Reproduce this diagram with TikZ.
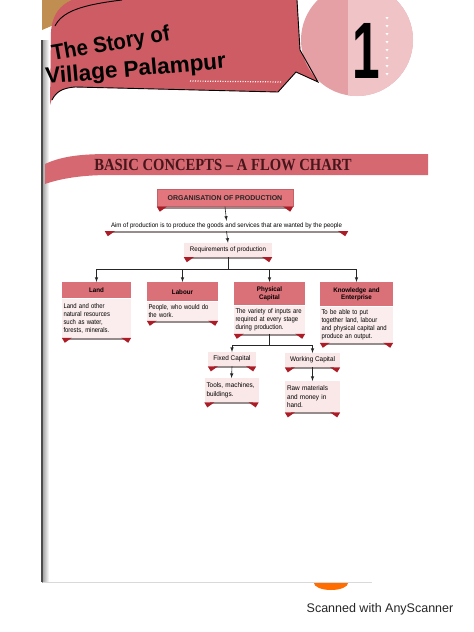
\documentclass[tikz,border=0pt]{standalone}
\usepackage{fontspec}
\setmainfont{Liberation Sans}
\newfontfamily\ttlserif{Liberation Serif}
\newfontfamily\boxfont[FakeStretch=0.94]{Liberation Sans}
\newfontfamily\bodyfont[FakeStretch=0.86]{Liberation Sans}
\usetikzlibrary{positioning,arrows,calc}

\definecolor{ribbon}{RGB}{205,92,100}
\definecolor{circpink}{RGB}{228,160,165}
\definecolor{circlight}{RGB}{240,196,198}
\definecolor{banner}{RGB}{214,104,114}
\definecolor{orgpink}{RGB}{226,118,124}
\definecolor{hdpink}{RGB}{218,112,120}
\definecolor{bodypink}{RGB}{251,237,237}
\definecolor{subpink}{RGB}{250,232,232}
\definecolor{flapred}{RGB}{172,28,38}
\definecolor{shadowgrey}{RGB}{150,140,140}
\definecolor{ttlred}{RGB}{70,22,26}
\definecolor{wood}{RGB}{192,142,80}

\begin{document}
\begin{tikzpicture}[x=1pt,y=-1pt,
     % define styles
     hdbox/.style={
         fill=hdpink,
         font=\boxfont\bfseries\fontsize{6.6}{7.4}\selectfont,
         align=center,
         text width=#1,
         inner xsep=1.5pt, inner ysep=2pt
     },
     bodybox/.style={
         fill=bodypink,
         font=\bodyfont\fontsize{6.9}{8}\selectfont,
         align=left,
         text width=#1,
         inner xsep=1.5pt, inner ysep=2pt
     },
     subbox/.style={
         fill=subpink,
         font=\boxfont\fontsize{6.8}{8.2}\selectfont,
         align=left,
         inner xsep=2pt, inner ysep=2pt
     },
     title/.style={
         anchor=base west,
         inner sep=0pt,
         font=\bfseries\fontsize{22}{22}\selectfont
     },
     link/.style={line width=0.6pt, black!85},
     >=latex
]
\useasboundingbox (0,0) rectangle (474,632);
\fill[white] (0,0) rectangle (474,632);

% page edge
\shade[left color=black!40, right color=white] (42,40) rectangle (49,582);
\fill[black!70] (41,40) rectangle (42.5,582);
\draw[black!15] (43,582) -- (372,582);
\fill[orange!85!red] (314,583) arc[start angle=180, end angle=0, x radius=17, y radius=7] -- cycle;

% chapter heading
\fill[wood] (42,0) -- (82,0) -- (72,10) -- (56,24) -- (42,30) -- cycle;
\fill[ribbon] (50,105) .. controls (52,95) and (60,88) .. (75,87) -- (278,92)
   -- (296,72) -- (318,82) -- (300,50) -- (297,0) -- (72,0)
   .. controls (60,5) and (52,15) .. (51,32) -- cycle;
\begin{scope}
  \clip (357,40) circle (56);
  \fill[circpink] (290,-20) rectangle (420,100);
  \fill[circlight] (348,-20) rectangle (420,100);
\end{scope}
\draw[line width=0.9pt] (52,100) .. controls (56,92) and (62,88) .. (75,87)
   -- (278,92) -- (296,72) -- (318,82) -- (300,50) -- (297,0);
\draw[line width=0.9pt] (55,26) .. controls (62,12) and (80,5) .. (122,0);
\draw[white, line width=1.2pt, dash pattern=on 1pt off 1.5pt] (190,81) -- (282,82);
\draw[white, line width=1.6pt, dash pattern=on 1.6pt off 2pt] (58,96) -- (76,92);
\foreach \yy in {18,26,...,74}
  \fill[white] (387,\yy) ++(-1.5,-1) -- ++(3,0) -- ++(-1.5,2.5) -- cycle;
\node[font=\bfseries\fontsize{80}{80}\selectfont, xscale=0.62] (chapno) at (366,51) {1};
\node[title, rotate=10, xscale=0.93] (ttlone) at (53,61) {The Story of};
\node[title, rotate=5, font=\bfseries\fontsize{22.5}{22.5}\selectfont] (ttltwo) at (46,84) {Village Palampur};

% banner
\fill[banner] (45,164) .. controls (62,156) and (82,154) .. (110,154) -- (428,154)
   -- (428,175) -- (110,175)
   .. controls (84,175) and (62,178) .. (45,184) -- cycle;
\node[font=\ttlserif\bfseries\fontsize{17}{17}\selectfont, text=ttlred, xscale=0.86] (banner) at (223,165) {BASIC CONCEPTS – A FLOW CHART};

% flow chart
\node[fill=orgpink, draw=flapred!70, line width=0.4pt, minimum width=136pt, minimum height=17pt,
      font=\bfseries\fontsize{7}{8}\selectfont, text=black!85] (org) at (225,198) {ORGANISATION OF PRODUCTION};
\node[font=\boxfont\fontsize{6.5}{7}\selectfont, minimum width=243pt, inner ysep=2pt] (aim) at (226.5,226)
      {Aim of production is to produce the goods and services that are wanted by the people};
\node[subbox, font=\boxfont\fontsize{6.6}{7.4}\selectfont, minimum width=88pt, minimum height=14pt, align=center] (req) at (228,250)
      {Requirements of production};

\node[hdbox=66pt, minimum height=16pt, anchor=north] (landhd) at (96.5,282) {Land};
\node[bodybox=66pt, minimum height=39pt, below=0pt of landhd] (land)
      {Land and other\\natural resources\\such as water,\\forests, minerals.};
\node[hdbox=68pt, minimum height=19pt, anchor=north] (labourhd) at (182.5,282) {Labour};
\node[bodybox=68pt, minimum height=19pt, below=0pt of labourhd] (labour)
      {People, who would do\\the work.};
\node[hdbox=68pt, minimum height=23pt, anchor=north] (physcaphd) at (269.5,282) {Physical\\Capital};
\node[bodybox=68pt, minimum height=28pt, below=0pt of physcaphd] (physcap)
      {The variety of inputs are\\required at every stage\\during production.};
\node[hdbox=70pt, minimum height=24pt, anchor=north] (knowenthd) at (356.5,282) {Knowledge and\\Enterprise};
\node[bodybox=70pt, minimum height=36pt, below=0pt of knowenthd] (knowent)
      {To be able to put\\together land, labour\\and physical capital and\\produce an output.};

\node[subbox, minimum width=48pt, minimum height=14pt, anchor=north, align=center] (fixcap) at (232,352) {Fixed Capital};
\node[subbox, minimum width=55pt, minimum height=14pt, anchor=north, align=center] (workcap) at (312.5,353) {Working Capital};
\node[subbox, text width=50pt, minimum height=24pt, anchor=north] (tools) at (231.5,378)
      {Tools, machines,\\buildings.};
\node[subbox, text width=51pt, minimum height=31pt, anchor=north] (rawmat) at (312.5,381)
      {Raw materials\\and money in\\hand.};

% flaps under the boxes
\foreach \n in {org,aim,req,land,labour,physcap,knowent,fixcap,workcap,tools,rawmat}{
  \fill[shadowgrey] ([xshift=6pt]\n.south west) rectangle ([xshift=-6pt,yshift=-2pt]\n.south east);
  \fill[flapred] (\n.south west) -- ++(10,0) -- ++(-7,5) -- cycle;
  \fill[flapred] (\n.south east) -- ++(-10,0) -- ++(7,5) -- cycle;
}

% connectors
\coordinate (bus) at (0,269);
\coordinate (subbus) at (0,345);
\draw[link,->] (org.south) -- (aim.north);
\draw[link,->] (aim.south) -- (req.north);
\draw[link] (req.south) -- (req.south |- bus);
\draw[link] (landhd.north |- bus) -- (knowenthd.north |- bus);
\foreach \n in {landhd,labourhd,physcaphd,knowenthd}
  \draw[link,->] (\n.north |- bus) -- (\n.north);
\draw[link] (physcap.south) -- (physcap.south |- subbus);
\draw[link] (fixcap.north |- subbus) -- (workcap.north |- subbus);
\draw[link,->] (fixcap.north |- subbus) -- (fixcap.north);
\draw[link,->] (workcap.north |- subbus) -- (workcap.north);
\draw[link,->] (fixcap.south) -- (tools.north);
\draw[link,->] (workcap.south) -- (rawmat.north);

% scanner mark
\node[font=\fontsize{12.5}{14}\selectfont, text=black!85] (scan) at (380,609) {Scanned with AnyScanner};
\end{tikzpicture}
\end{document}
